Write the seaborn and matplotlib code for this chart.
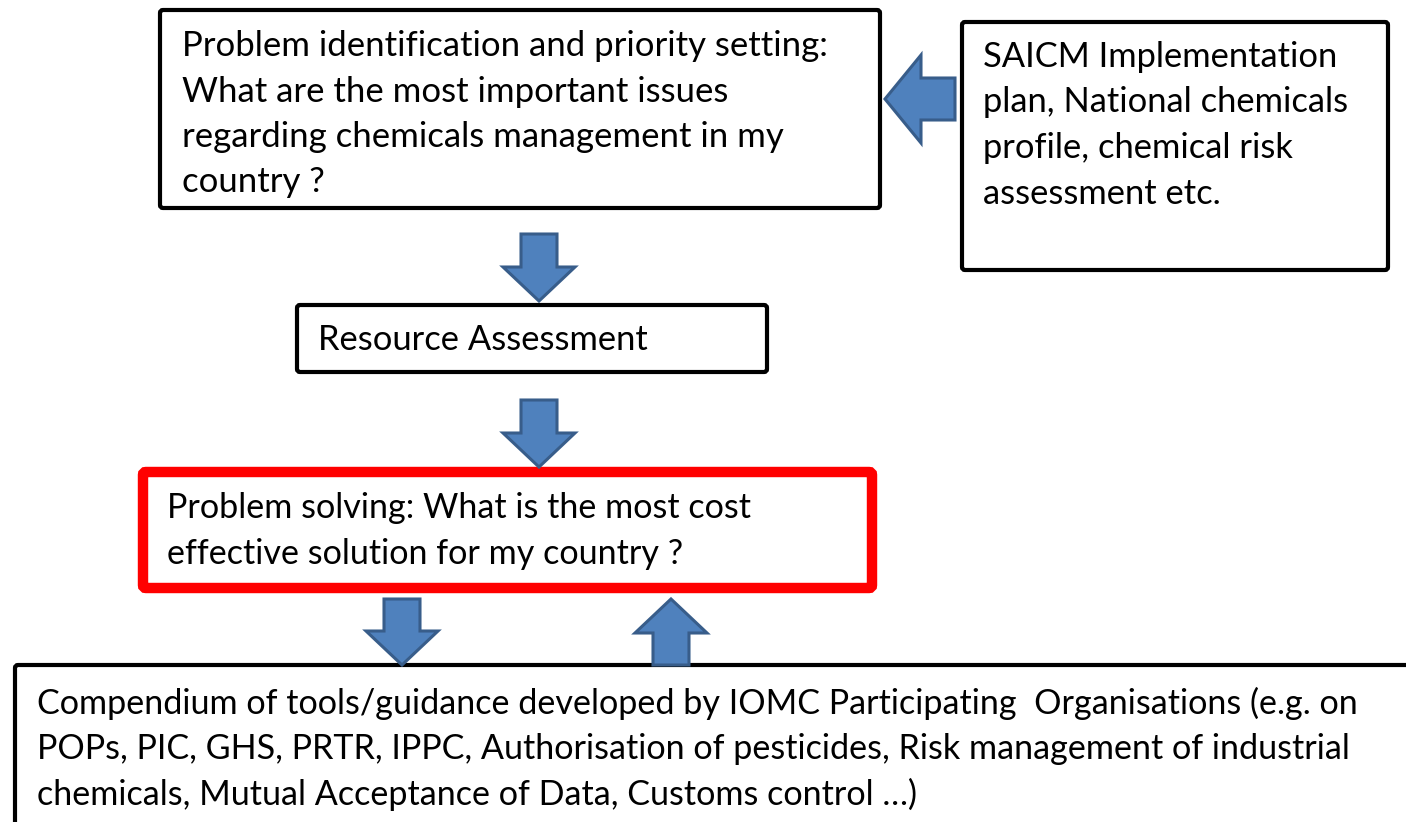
import matplotlib
matplotlib.use("Agg")
from matplotlib import pyplot as plt
from matplotlib.patches import FancyBboxPatch, Polygon
import seaborn as sns

sns.set_theme(style="white")
plt.rcParams["font.family"] = ["Lato", "DejaVu Sans"]

# box texts, one entry per line
problem_lines = ["Problem identification and priority setting:",
                 "What are the most important issues",
                 "regarding chemicals management in my",
                 "country ?"]
saicm_lines = ["SAICM Implementation",
               "plan, National chemicals",
               "profile, chemical risk",
               "assessment etc."]
resource_lines = ["Resource Assessment"]
solving_lines = ["Problem solving: What is the most cost",
                 "effective solution for my country ?"]
compendium_lines = ["Compendium of tools/guidance developed by IOMC Participating  Organisations (e.g. on",
                    "POPs, PIC, GHS, PRTR, IPPC, Authorisation of pesticides, Risk management of industrial",
                    "chemicals, Mutual Acceptance of Data, Customs control \u2026)"]

# layout in pixels: x0, y0, x1, y1 (y downwards), edge colour, width, text start, font size
boxes = [
    (problem_lines, (160, 10, 880, 208), "black", 3.0, (182, 46), 25),
    (saicm_lines, (962, 22, 1388, 270), "black", 3.0, (983, 57), 24.8),
    (resource_lines, (297, 305, 767, 372), "black", 3.0, (318, 340), 24.8),
    (solving_lines, (143, 472, 872, 588), "#ff0000", 7.5, (167, 508), 24.6),
    (compendium_lines, (15, 665, 1420, 840), "black", 3.0, (37, 703), 24.6),
]
line_gap = 45.5

ARROW_FILL = "#4f81bd"
ARROW_EDGE = "#385d8a"


def vertical_arrow(cx, y_tail, y_tip, shaft_w=36, head_w=72, head_len=34):
    d = 1 if y_tip > y_tail else -1
    yb = y_tip - d * head_len
    pts = [(cx - shaft_w / 2, y_tail), (cx + shaft_w / 2, y_tail),
           (cx + shaft_w / 2, yb), (cx + head_w / 2, yb), (cx, y_tip),
           (cx - head_w / 2, yb), (cx - shaft_w / 2, yb)]
    return pts


def horizontal_arrow(cy, x_tail, x_tip, shaft_h=42, head_h=88, head_len=36):
    d = 1 if x_tip > x_tail else -1
    xb = x_tip - d * head_len
    pts = [(x_tail, cy - shaft_h / 2), (x_tail, cy + shaft_h / 2),
           (xb, cy + shaft_h / 2), (xb, cy + head_h / 2), (x_tip, cy),
           (xb, cy - head_h / 2), (xb, cy - shaft_h / 2)]
    return pts


arrows = [
    vertical_arrow(539, 234, 301),
    vertical_arrow(539, 400, 467),
    vertical_arrow(402, 599, 665),
    vertical_arrow(671, 665, 599),
    horizontal_arrow(99, 955, 885),
]

fig = plt.figure(figsize=(14.06, 8.22), dpi=100)
ax = fig.add_axes([0, 0, 1, 1])
ax.set_xlim(0, 1406)
ax.set_ylim(822, 0)
ax.axis("off")

for lines, (x0, y0, x1, y1), col, lw, (tx, ty), fs in boxes:
    ax.add_patch(FancyBboxPatch((x0, y0), x1 - x0, y1 - y0,
                                boxstyle="round,pad=0,rounding_size=3",
                                fc="white", ec=col, lw=lw, zorder=2))
    for i, line in enumerate(lines):
        ax.text(tx, ty + i * line_gap, line, fontsize=fs, color="black",
                ha="left", va="center", zorder=3)

for pts in arrows:
    ax.add_patch(Polygon(pts, closed=True, fc=ARROW_FILL, ec=ARROW_EDGE,
                         lw=2.2, joinstyle="miter", zorder=4))

fig.savefig("out.png", dpi=100)
